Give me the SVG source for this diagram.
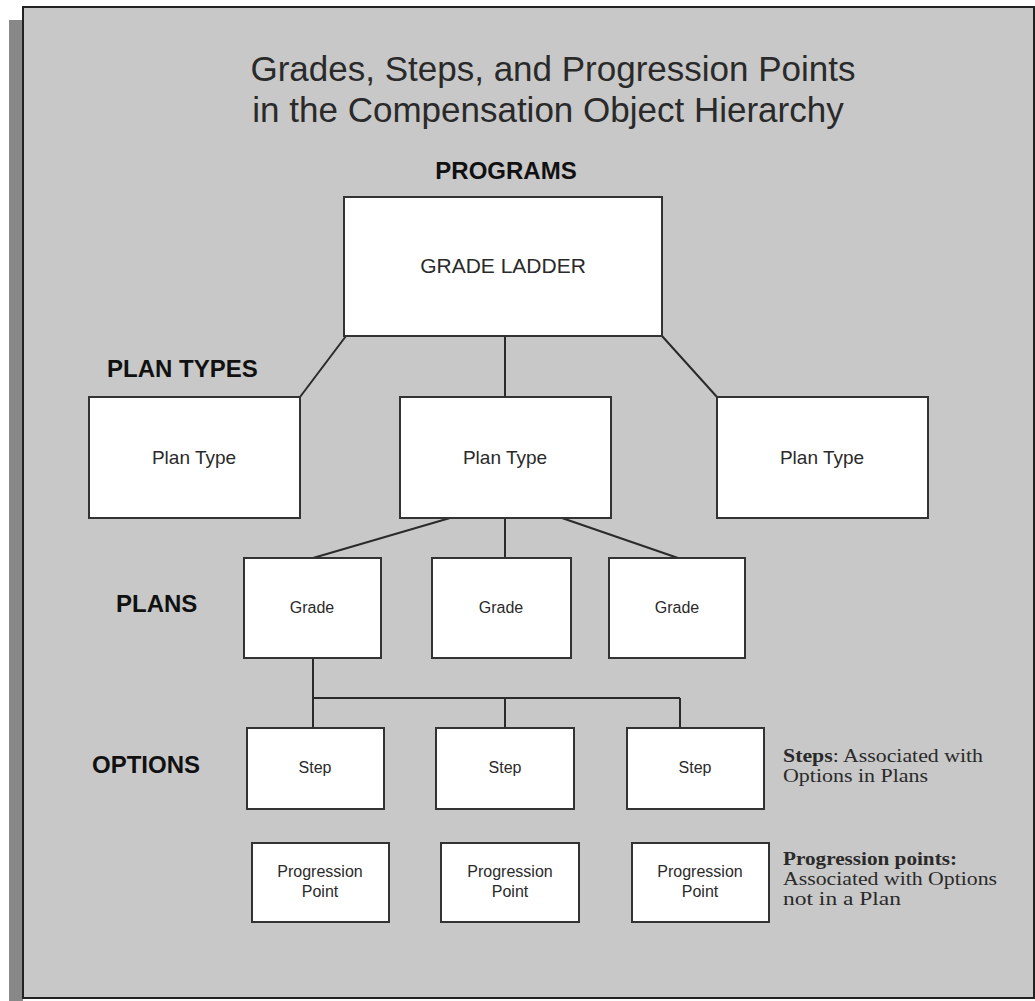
<svg xmlns="http://www.w3.org/2000/svg" width="1035" height="1001" viewBox="0 0 1035 1001">
<style>
.box{fill:#fff;stroke:#333;stroke-width:2}
.conn{stroke:#2a2a2a;stroke-width:2;fill:none}
.t{font-family:"Liberation Sans",Arial,sans-serif;fill:#2a2a2a;text-anchor:middle}
.lbl{font-family:"Liberation Sans",Arial,sans-serif;font-weight:bold;fill:#111;font-size:24px}
.note{font-family:"Liberation Serif","Times New Roman",serif;fill:#2a2a2a;font-size:18px}
</style>
<rect x="9" y="20" width="14" height="981" fill="#888"/>
<rect x="23" y="7" width="1011" height="991" fill="#c8c8c8" stroke="#222" stroke-width="2"/>
<g id="title">
<text class="t" x="553" y="81" font-size="35" fill="#222">Grades, Steps, and Progression Points</text>
<text class="t" x="548" y="122" font-size="35" fill="#222">in the Compensation Object Hierarchy</text>
</g>
<g id="level-labels">
<text class="lbl" x="506" y="179" text-anchor="middle" font-size="22">PROGRAMS</text>
<text class="lbl" x="107" y="377">PLAN TYPES</text>
<text class="lbl" x="116" y="612">PLANS</text>
<text class="lbl" x="92" y="773">OPTIONS</text>
</g>
<g id="connectors">
<line class="conn" x1="346" y1="336" x2="300" y2="397"/>
<line class="conn" x1="505" y1="336" x2="505" y2="397"/>
<line class="conn" x1="662" y1="336" x2="717" y2="397"/>
<line class="conn" x1="450" y1="518" x2="313" y2="558"/>
<line class="conn" x1="505" y1="518" x2="505" y2="558"/>
<line class="conn" x1="562" y1="518" x2="678" y2="558"/>
<line class="conn" x1="313" y1="658" x2="313" y2="728"/>
<line class="conn" x1="313" y1="698" x2="680" y2="698"/>
<line class="conn" x1="505" y1="698" x2="505" y2="728"/>
<line class="conn" x1="680" y1="698" x2="680" y2="728"/>
</g>
<g id="grade-ladder"><rect class="box" x="344" y="197" width="318" height="139"/><text class="t" x="503" y="273" font-size="21">GRADE LADDER</text></g>
<g id="plan-type-1"><rect class="box" x="89" y="397" width="211" height="121"/><text class="t" x="194" y="464" font-size="19">Plan Type</text></g>
<g id="plan-type-2"><rect class="box" x="400" y="397" width="211" height="121"/><text class="t" x="505" y="464" font-size="19">Plan Type</text></g>
<g id="plan-type-3"><rect class="box" x="717" y="397" width="211" height="121"/><text class="t" x="822" y="464" font-size="19">Plan Type</text></g>
<g id="grade-1"><rect class="box" x="244" y="558" width="137" height="100"/><text class="t" x="312" y="613" font-size="16">Grade</text></g>
<g id="grade-2"><rect class="box" x="432" y="558" width="139" height="100"/><text class="t" x="501" y="613" font-size="16">Grade</text></g>
<g id="grade-3"><rect class="box" x="609" y="558" width="136" height="100"/><text class="t" x="677" y="613" font-size="16">Grade</text></g>
<g id="step-1"><rect class="box" x="247" y="728" width="137" height="81"/><text class="t" x="315" y="773" font-size="16">Step</text></g>
<g id="step-2"><rect class="box" x="436" y="728" width="138" height="81"/><text class="t" x="505" y="773" font-size="16">Step</text></g>
<g id="step-3"><rect class="box" x="627" y="728" width="137" height="81"/><text class="t" x="695" y="773" font-size="16">Step</text></g>
<g id="progression-1"><rect class="box" x="252" y="843" width="137" height="79"/><text class="t" x="320" y="877" font-size="16">Progression</text><text class="t" x="320" y="897" font-size="16">Point</text></g>
<g id="progression-2"><rect class="box" x="441" y="843" width="138" height="79"/><text class="t" x="510" y="877" font-size="16">Progression</text><text class="t" x="510" y="897" font-size="16">Point</text></g>
<g id="progression-3"><rect class="box" x="632" y="843" width="137" height="79"/><text class="t" x="700" y="877" font-size="16">Progression</text><text class="t" x="700" y="897" font-size="16">Point</text></g>
<g id="steps-note">
<text class="note" x="783" y="762" textLength="200" lengthAdjust="spacingAndGlyphs"><tspan font-weight="bold">Steps</tspan>: Associated with</text>
<text class="note" x="783" y="782" textLength="145" lengthAdjust="spacingAndGlyphs">Options in Plans</text>
</g>
<g id="progression-note">
<text class="note" x="783" y="865" font-weight="bold" textLength="174" lengthAdjust="spacingAndGlyphs">Progression points:</text>
<text class="note" x="783" y="885" textLength="214" lengthAdjust="spacingAndGlyphs">Associated with Options</text>
<text class="note" x="783" y="905" textLength="118" lengthAdjust="spacingAndGlyphs">not in a Plan</text>
</g>
</svg>
